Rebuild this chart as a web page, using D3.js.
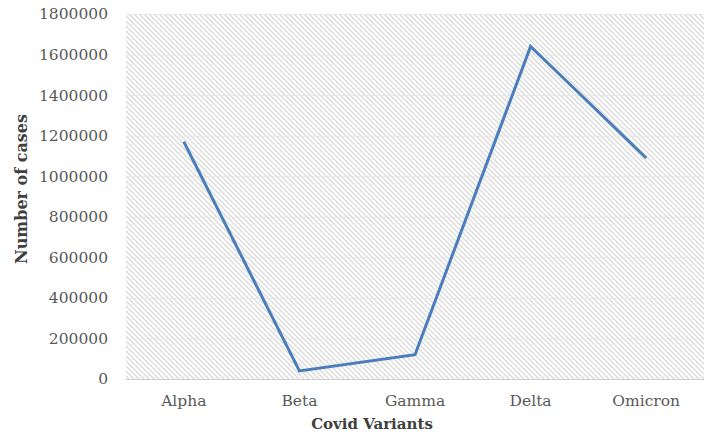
<!DOCTYPE html>
<html><head><meta charset="utf-8">
<script src="https://cdn.jsdelivr.net/npm/d3@7"></script>
<style>body{margin:0;background:#fff}svg{display:block}</style>
</head><body>
<script>
const categories = ["Alpha","Beta","Gamma","Delta","Omicron"];
const cases = [1170000, 40000, 120000, 1640000, 1090000];
const yTicks = [0,200000,400000,600000,800000,1000000,1200000,1400000,1600000,1800000];

const W = 710, H = 433;
const m = {left:126, right:6, top:14, bottom:54};
const svg = d3.select("body").append("svg").attr("width",W).attr("height",H);
const defs = svg.append("defs");
const pat = defs.append("pattern").attr("id","hatch").attr("patternUnits","userSpaceOnUse")
  .attr("width",5).attr("height",5);
pat.append("rect").attr("width",5).attr("height",5).attr("fill","#fff");
pat.append("path").attr("d","M-1,-1 L6,6 M-1,4 L1,6 M4,-1 L6,1").attr("stroke","#dadada").attr("stroke-width",1.3);

const x = d3.scaleBand().domain(categories).range([m.left, W-m.right]);
const y = d3.scaleLinear().domain([0,1800000]).range([H-m.bottom, m.top]);

svg.append("rect").attr("x",m.left).attr("y",m.top).attr("width",W-m.left-m.right).attr("height",H-m.top-m.bottom).attr("fill","url(#hatch)");

const grid = svg.append("g");
grid.selectAll("line").data(yTicks).join("line")
  .attr("x1",m.left).attr("x2",W-m.right)
  .attr("y1",d=>y(d)+0.5).attr("y2",d=>y(d)+0.5)
  .attr("stroke",d=>d===0?"#d0d0d0":"#e6e6e6").attr("stroke-width",1);

const yAxis = svg.append("g").attr("transform",`translate(${m.left},0)`)
  .call(d3.axisLeft(y).tickValues(yTicks).tickFormat(d3.format("d")).tickSize(0).tickPadding(18));
yAxis.select(".domain").remove();
yAxis.selectAll("text").attr("font-family","DejaVu Serif").attr("font-size",15.5).attr("fill","#595959");

const xAxis = svg.append("g").attr("transform",`translate(0,${H-m.bottom})`)
  .call(d3.axisBottom(x).tickSize(0).tickPadding(16));
xAxis.select(".domain").remove();
xAxis.selectAll("text").attr("font-family","DejaVu Serif").attr("font-size",15.5).attr("fill","#595959");

const line = d3.line().x((d,i)=>x(categories[i])+x.bandwidth()/2).y(d=>y(d));
svg.append("path").datum(cases).attr("d",line).attr("fill","none")
  .attr("stroke","#4a7ebb").attr("stroke-width",3).attr("stroke-linejoin","miter");

svg.append("text").attr("x",372).attr("y",429).attr("text-anchor","middle")
  .attr("font-family","DejaVu Serif").attr("font-weight","bold").attr("font-size",15)
  .attr("fill","#404040").text("Covid Variants");
svg.append("text").attr("transform","translate(27,189) rotate(-90)").attr("text-anchor","middle")
  .attr("font-family","DejaVu Serif").attr("font-weight","bold").attr("font-size",16)
  .attr("fill","#404040").text("Number of cases");
</script>
</body></html>
